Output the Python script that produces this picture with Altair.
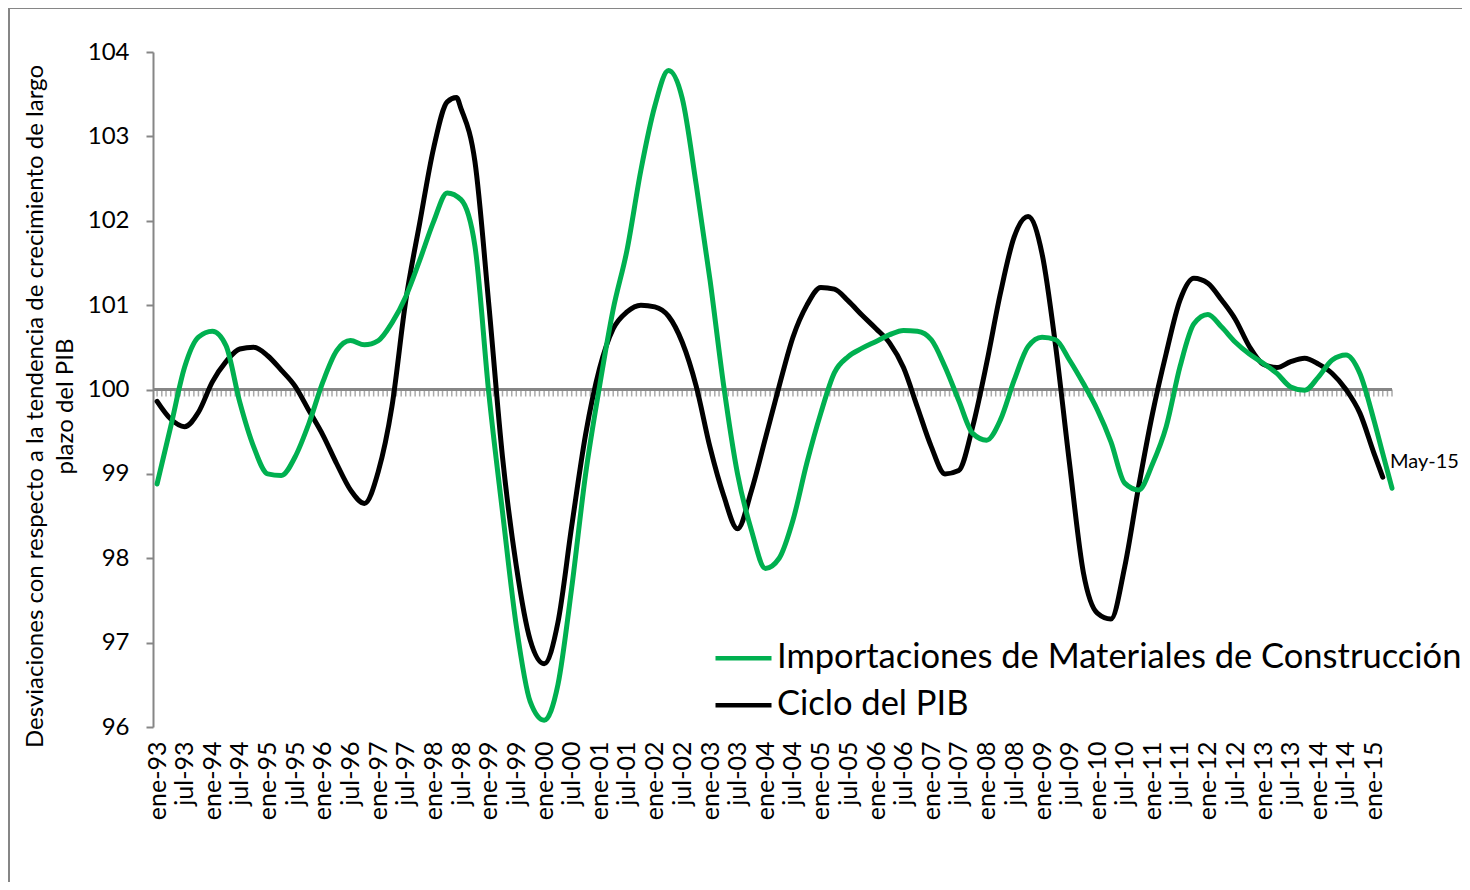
import altair as alt
import pandas as pd

serie_imp = "Importaciones de Materiales de Construcción"
serie_pib = "Ciclo del PIB"

# quarterly categories ene-93 ... ene-15
trimestres = [f"{1993 + i // 4}-{(i % 4) * 3 + 1:02d}" for i in range(89)]

imp_fechas = trimestres + ["2015-03", "2015-05"]
imp_valores = [
    98.88, 99.56, 100.26, 100.62, 100.69, 100.52, 99.85, 99.32, 99.00, 98.98,
    99.20, 99.60, 100.09, 100.46, 100.58, 100.53, 100.58, 100.79, 101.10, 101.53,
    101.99, 102.33, 102.25, 101.70, 99.95, 98.55, 97.20, 96.30, 96.08, 96.50,
    97.65, 99.00, 100.04, 100.95, 101.65, 102.60, 103.36, 103.78, 103.45, 102.43,
    101.29, 100.04, 99.00, 98.33, 97.88, 98.00, 98.45, 99.13, 99.72, 100.20,
    100.39, 100.49, 100.57, 100.65, 100.70, 100.69, 100.59, 100.27, 99.87, 99.48,
    99.40, 99.64, 100.11, 100.51, 100.62, 100.59, 100.35, 100.07, 99.76, 99.38,
    98.89, 98.81, 99.12, 99.56, 100.27, 100.78, 100.89, 100.74, 100.56, 100.42,
    100.31, 100.19, 100.03, 99.99, 100.15, 100.35, 100.41, 100.19, 99.64,
    99.24, 98.83,
]

pib_fechas = trimestres + ["1998-06", "2015-03"]
pib_valores = [
    99.86, 99.65, 99.56, 99.73, 100.09, 100.33, 100.48, 100.50, 100.40, 100.23,
    100.04, 99.75, 99.46, 99.12, 98.81, 98.65, 99.03, 99.80, 101.05, 101.97,
    102.86, 103.41, 103.33, 102.70, 101.00, 99.20, 97.91, 97.03, 96.75, 97.24,
    98.38, 99.47, 100.25, 100.72, 100.92, 101.00, 100.98, 100.87, 100.56, 100.04,
    99.31, 98.74, 98.35, 98.80, 99.42, 100.04, 100.62, 101.00, 101.21, 101.19,
    101.05, 100.88, 100.72, 100.55, 100.26, 99.79, 99.32, 99.00, 99.04, 99.56,
    100.31, 101.14, 101.81, 102.05, 101.61, 100.51, 99.13, 97.83, 97.35, 97.28,
    97.90, 98.85, 99.72, 100.43, 101.06, 101.32, 101.26, 101.06, 100.83, 100.51,
    100.30, 100.26, 100.33, 100.37, 100.30, 100.19, 100.00, 99.72, 99.25,
    103.46, 98.96,
]

etiqueta_final = "May-15"
y_ticks = [96, 97, 98, 99, 100, 101, 102, 103, 104]
linea_base = 100

# ---------------- data frames ----------------
df = pd.concat([
    pd.DataFrame({"fecha": pd.to_datetime([f + "-01" for f in imp_fechas]),
                  "valor": imp_valores, "serie": serie_imp}),
    pd.DataFrame({"fecha": pd.to_datetime([f + "-01" for f in pib_fechas]),
                  "valor": pib_valores, "serie": serie_pib}),
]).sort_values(["serie", "fecha"]).reset_index(drop=True)

meses = pd.DataFrame({"fecha": pd.date_range("1993-01-01", "2015-05-01", freq="MS")})
meses["valor"] = linea_base
df_label = pd.DataFrame({"fecha": [pd.to_datetime(imp_fechas[-1] + "-01")],
                         "valor": [imp_valores[-1]], "texto": [etiqueta_final]})

GRAY = "#868686"
FONT = "Lato"

tick_values = [alt.DateTime(year=y, month=m, date=1)
               for y in range(1993, 2016) for m in (1, 7)
               if not (y == 2015 and m == 7)]

x_scale = alt.Scale(domain=[alt.DateTime(year=1992, month=12, date=5),
                            alt.DateTime(year=2015, month=5, date=1)], nice=False)
x_axis = alt.Axis(
    values=tick_values,
    labelExpr="(month(datum.value) == 0 ? 'ene' : 'jul') + '-' + timeFormat(datum.value, '%y')",
    labelAngle=270, labelFont=FONT, labelFontSize=25, labelColor="black",
    labelPadding=14, ticks=False, domain=False, grid=False, title=None,
    labelOverlap=False, labelFlush=False,
)
x_enc = alt.X("fecha:T", scale=x_scale, axis=x_axis)

y_enc = alt.Y(
    "valor:Q",
    scale=alt.Scale(domain=[96, 104], nice=False, zero=False),
    axis=alt.Axis(
        values=y_ticks, grid=False, domainColor=GRAY, domainWidth=2,
        tickColor=GRAY, tickWidth=2, tickSize=7, labelFont=FONT, labelFontSize=24,
        labelColor="black", labelPadding=17,
        title=["Desviaciones con respecto a la tendencia de crecimiento de largo",
               "plazo del PIB"],
        titleFont=FONT, titleFontSize=24, titleFontWeight="normal", titleColor="black",
        titleLineHeight=30, titleX=-118, titleY=354, titleBaseline="middle",
        titleAngle=270,
    ),
)

axis_line = alt.Chart(meses).mark_rule(color=GRAY, strokeWidth=2).encode(y=y_enc)

month_ticks = alt.Chart(meses).mark_tick(
    color=GRAY, thickness=1.5, size=7, orient="vertical", yOffset=3.5
).encode(x=x_enc, y=y_enc)

lines = alt.Chart(df).mark_line(
    strokeWidth=5, interpolate="monotone", strokeCap="round", strokeJoin="round"
).encode(
    x=x_enc,
    y=y_enc,
    color=alt.Color(
        "serie:N",
        scale=alt.Scale(domain=[serie_imp, serie_pib], range=["#00B050", "#000000"]),
        legend=alt.Legend(
            title=None, orient="none", legendX=560, legendY=583,
            symbolType="stroke", symbolSize=3136, symbolStrokeWidth=4.5,
            labelFont=FONT, labelFontSize=34.5, labelColor="black", labelOffset=3,
            labelLimit=900, clipHeight=46.5, rowPadding=0, padding=0,
        ),
    ),
    detail="serie:N",
)

label = alt.Chart(df_label).mark_text(
    align="left", baseline="middle", dx=-2, dy=-26, font=FONT, fontSize=20, color="black"
).encode(x=x_enc, y=y_enc, text="texto:N")

# outer chart frame (drawn last, unfilled)
frame = alt.Chart(df_label).mark_rect(
    filled=False, stroke=GRAY, strokeWidth=2
).encode(x=alt.value(-144), x2=alt.value(1400), y=alt.value(-44), y2=alt.value(900))

chart = alt.layer(axis_line, month_ticks, lines, label, frame).properties(
    width=1239, height=675,
    padding={"left": 145, "top": 44, "right": 70, "bottom": 155},
    autosize=alt.AutoSizeParams(type="none"),
).configure_view(stroke=None)

chart.save("out.html", embed_options={"renderer": "svg", "actions": False})
